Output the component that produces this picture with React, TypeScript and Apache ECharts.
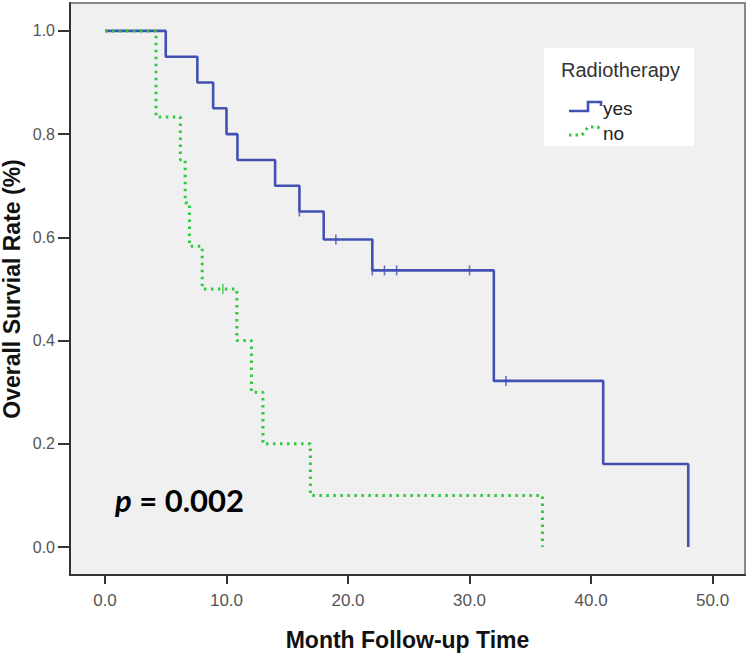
import React, { useEffect, useRef } from "react";
import * as echarts from "echarts";

// ---- data ----
const yesTimes = [0, 5, 7.6, 8.9, 10, 10.9, 14, 16, 18, 22, 32, 41, 48];
const yesSurv = [1, 0.95, 0.9, 0.85, 0.8, 0.75, 0.7, 0.65, 0.596, 0.536, 0.322, 0.161, 0];
const yesCensorTimes = [16, 19, 22, 23, 24, 30, 33];
const yesCensorSurv = [0.65, 0.596, 0.536, 0.536, 0.536, 0.536, 0.322];

const noTimes = [0, 4.2, 6.2, 6.6, 6.95, 8, 10.85, 12.05, 13, 16.9, 36];
const noSurv = [1, 0.833, 0.75, 0.667, 0.583, 0.5, 0.4, 0.3, 0.2, 0.1, 0];
const noCensorTimes = [9.7];
const noCensorSurv = [0.5];

const xTicks = [0, 10, 20, 30, 40, 50];
const yTicks = [0, 0.2, 0.4, 0.6, 0.8, 1.0];

const groupNames = ["yes", "no"];
const legendTitle = "Radiotherapy";
const xTitle = "Month Follow-up Time";
const yTitle = "Overall Survial Rate (%)";
const pText = "0.002";

const BLUE = "#4152b3";
const GREEN = "#30c93e";
const FONT = "'Liberation Sans', Arial, sans-serif";

const zip = (a: number[], b: number[]) => a.map((v, i) => [v, b[i]]);

export default function App() {
  const ref = useRef<HTMLDivElement>(null);
  useEffect(() => {
    if (!ref.current) return;
    const chart = echarts.init(ref.current, null, { renderer: "svg" });
    const option: any = {
      animation: false,
      backgroundColor: "#ffffff",
      grid: {
        left: 70,
        top: 3,
        right: 5,
        bottom: 80,
        containLabel: false,
        outerBoundsMode: "none",
        show: true,
        backgroundColor: "#f0f0f0",
        borderColor: "#666",
        borderWidth: 1.5,
      },
      xAxis: {
        type: "value",
        min: -2.88,
        max: 52.67,
        name: xTitle,
        nameLocation: "middle",
        nameGap: 53,
        nameMoveOverlap: false,
        nameTextStyle: { fontFamily: FONT, fontWeight: "bold", fontSize: 23, color: "#111" },
        axisLine: { show: true, onZero: false, lineStyle: { color: "#333", width: 2 } },
        axisTick: { show: true, customValues: xTicks, length: 9, lineStyle: { color: "#333", width: 2 } },
        axisLabel: {
          customValues: xTicks,
          margin: 17,
          fontFamily: FONT,
          fontSize: 17,
          color: "#555",
          formatter: (v: number) => v.toFixed(1),
        },
        splitLine: { show: false },
      },
      yAxis: {
        type: "value",
        min: -0.054,
        max: 1.054,
        name: yTitle,
        nameLocation: "middle",
        nameGap: 47,
        nameMoveOverlap: false,
        nameTextStyle: { fontFamily: FONT, fontWeight: "bold", fontSize: 23, color: "#111" },
        axisLine: { show: true, onZero: false, lineStyle: { color: "#333", width: 2 } },
        axisTick: { show: true, customValues: yTicks, length: 12, lineStyle: { color: "#333", width: 2 } },
        axisLabel: {
          customValues: yTicks,
          margin: 15,
          fontFamily: FONT,
          fontSize: 16,
          color: "#555",
          formatter: (v: number) => v.toFixed(1),
        },
        splitLine: { show: false },
      },
      series: [
        {
          name: groupNames[0],
          type: "line",
          step: "end",
          data: zip(yesTimes, yesSurv),
          showSymbol: false,
          lineStyle: { color: BLUE, width: 2.6 },
          z: 3,
        },
        {
          name: groupNames[1],
          type: "line",
          step: "end",
          data: zip(noTimes, noSurv),
          showSymbol: false,
          lineStyle: { color: GREEN, width: 3, type: [2.5, 4.5] },
          z: 4,
        },
        {
          name: groupNames[0] + " censored",
          type: "scatter",
          data: zip(yesCensorTimes, yesCensorSurv),
          symbol: "rect",
          symbolSize: [1.6, 10],
          itemStyle: { color: BLUE },
          z: 5,
        },
        {
          name: groupNames[1] + " censored",
          type: "scatter",
          data: zip(noCensorTimes, noCensorSurv),
          symbol: "rect",
          symbolSize: [1.6, 10],
          itemStyle: { color: GREEN },
          z: 5,
        },
      ],
      graphic: [
        {
          type: "rect",
          shape: { x: 544, y: 48, width: 150, height: 98 },
          style: { fill: "#ffffff" },
          z: 10,
        },
        {
          type: "text",
          x: 561,
          y: 70,
          style: {
            text: legendTitle,
            font: `20px ${FONT}`,
            fill: "#333",
            verticalAlign: "middle",
          },
          z: 11,
        },
        {
          type: "polyline",
          shape: { points: [[569, 111], [588, 111], [588, 102], [601, 102], [601, 106]] },
          style: { stroke: BLUE, lineWidth: 2.6, fill: null },
          z: 11,
        },
        {
          type: "text",
          x: 603,
          y: 108,
          style: { text: groupNames[0], font: `19px ${FONT}`, fill: "#222", verticalAlign: "middle" },
          z: 11,
        },
        {
          type: "polyline",
          shape: { points: [[569, 135], [582, 135], [588, 127], [598, 127], [601, 131]] },
          style: { stroke: GREEN, lineWidth: 3, lineDash: [2.5, 4], fill: null },
          z: 11,
        },
        {
          type: "text",
          x: 603,
          y: 133,
          style: { text: groupNames[1], font: `19px ${FONT}`, fill: "#222", verticalAlign: "middle" },
          z: 11,
        },
        {
          type: "text",
          x: 115,
          y: 500,
          style: {
            text: `{i|p}{b| = ${pText}}`,
            verticalAlign: "middle",
            rich: {
              i: { fontFamily: "Lato", fontWeight: "bold", fontStyle: "italic", fontSize: 31, fill: "#000" },
              b: { fontFamily: "Lato", fontWeight: "bold", fontSize: 31, fill: "#000" },
            },
          },
          z: 11,
        },
      ],
    };
    chart.setOption(option);
    return () => chart.dispose();
  }, []);
  return (
    <div
      ref={ref}
      style={{ position: "fixed", left: 0, top: 0, width: 750, height: 655 }}
    />
  );
}
